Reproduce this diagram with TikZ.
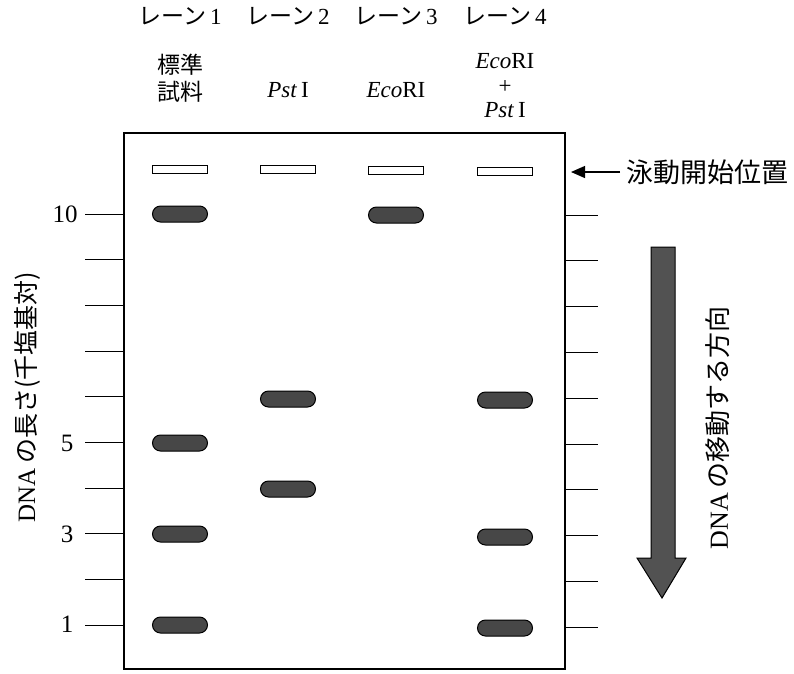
\documentclass[tikz,border=0pt]{standalone}
\usepackage{fontspec}
\setmainfont{Liberation Serif}
\newfontfamily\jp{Noto Sans CJK JP}
\usetikzlibrary{arrows.meta}
\tikzset{
  wellbox/.style={draw=black, line width=1pt, fill=white, minimum width=55pt, minimum height=8pt, inner sep=0pt},
  band/.style={draw=black, line width=1pt, fill=black!72, rounded corners=8pt, minimum width=55pt, minimum height=16pt, inner sep=0pt},
  tick/.style={line width=1pt},
  lbl/.style={font=\fontsize{23}{26}\selectfont, inner sep=0pt},
  num/.style={font=\fontsize{25}{26}\selectfont, inner sep=0pt},
}
\begin{document}
\begin{tikzpicture}[x=1pt,y=-1pt]
\useasboundingbox (0,0) rectangle (794,673);
% gel
\draw[line width=1.2pt] (124,133) rectangle (565,669);
% ticks
\foreach \i in {0,...,9} {
  \draw[tick] (85,{214+45.7*\i}) -- (124,{214+45.7*\i});
  \draw[tick] (565,{215+45.8*\i}) -- (598,{215+45.8*\i});
}
% numbers
\node[num] (n10) at (65,214) {10};
\node[num] (n5) at (67,443) {5};
\node[num] (n3) at (67,534) {3};
\node[num] (n1) at (67,624) {1};
% lane headings
\node[lbl] (h1) at (180,16) {{\jp レーン}\,1};
\node[lbl] (h2) at (288,16) {{\jp レーン}\,2};
\node[lbl] (h3) at (396,16) {{\jp レーン}\,3};
\node[lbl] (h4) at (505,16) {{\jp レーン}\,4};
\node[lbl, align=center] (s1) at (180,78) {{\jp 標準}\\[1pt]{\jp 試料}};
\node[lbl] (s2) at (288,90) {\textit{Pst}\,I};
\node[lbl] (s3) at (396,90) {\textit{Eco}RI};
\node[lbl] (s4a) at (505,61) {\textit{Eco}RI};
\node[font=\fontsize{23}{24}\selectfont, inner sep=0pt] (s4b) at (505,86.5) {+};
\node[lbl] (s4c) at (505,110) {\textit{Pst}\,I};
% wells
\node[wellbox] (w1) at (180,169) {};
\node[wellbox] (w2) at (288,169) {};
\node[wellbox] (w3) at (396,170) {};
\node[wellbox] (w4) at (505,171) {};
% bands
\node[band] (b1a) at (180,214) {};
\node[band] (b1b) at (180,443) {};
\node[band] (b1c) at (180,534) {};
\node[band] (b1d) at (180,625) {};
\node[band] (b2a) at (288,399) {};
\node[band] (b2b) at (288,489) {};
\node[band] (b3a) at (396,215) {};
\node[band] (b4a) at (505,400) {};
\node[band] (b4b) at (505,537) {};
\node[band] (b4c) at (505,628) {};
% start position label
\node[font=\fontsize{27}{29}\selectfont\jp, inner sep=0pt, anchor=west] (start) at (626,172) {泳動開始位置};
\coordinate (startpt) at (571,172);
\draw[line width=1.2pt, -{Triangle[length=14pt,width=12pt]}] (start.west) ++(-6,0) -- (startpt);
% direction arrow
\draw[line width=1pt, fill=black!68] (651,247) -- (675,247) -- (675,558) -- (686,558) -- (662,598) -- (637,558) -- (651,558) -- cycle;
\node[rotate=90, font=\fontsize{26}{28}\selectfont, inner sep=0pt] (dir) at (718,428) {DNA\,{\jp の移動する方向}};
\node[rotate=90, font=\fontsize{25}{27}\selectfont, inner sep=0pt] (ylab) at (27,397) {DNA\,{\jp の長さ(千塩基対)}};
\end{tikzpicture}
\end{document}
